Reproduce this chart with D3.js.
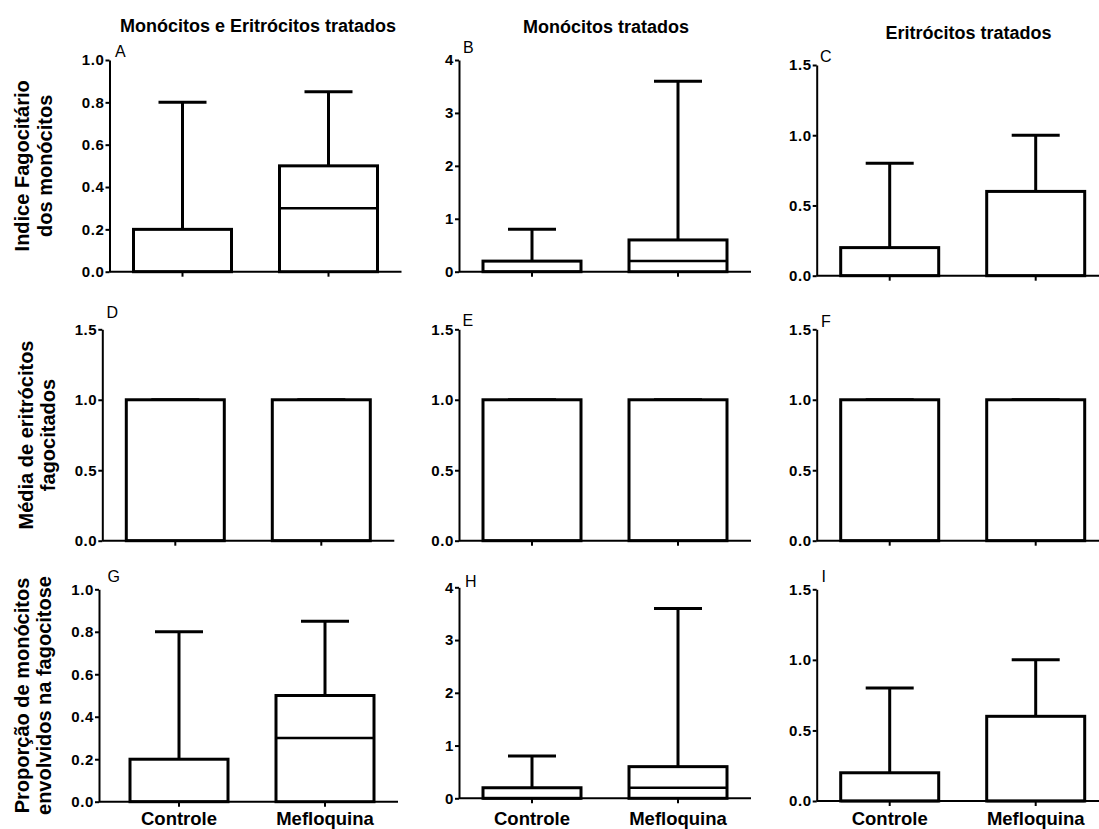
<!DOCTYPE html>
<html>
<head>
<meta charset="utf-8">
<script src="https://cdn.jsdelivr.net/npm/d3@7/dist/d3.min.js"></script>
<style>
  html, body { margin: 0; padding: 0; background: #fff; overflow: hidden; }
  svg { display: block; font-family: "Liberation Sans", Arial, sans-serif; }
</style>
</head>
<body>
<svg id="chart" width="1099" height="829"></svg>
<script>
// Groups compared in every panel
const categories = ["Controle", "Mefloquina"];

// Five-number summaries per group: [min, q1, median, q3, max]
const indiceAmbos       = [[0, 0, 0, 0.2, 0.8], [0, 0, 0.3, 0.5, 0.85]];
const indiceMonocitos   = [[0, 0, 0, 0.2, 0.8], [0, 0, 0.2, 0.6, 3.6]];
const indiceEritrocitos = [[0, 0, 0, 0.2, 0.8], [0, 0, 0, 0.6, 1.0]];

const mediaAmbos        = [[0, 0, 0, 1, 1], [0, 0, 0, 1, 1]];
const mediaMonocitos    = [[0, 0, 0, 1, 1], [0, 0, 0, 1, 1]];
const mediaEritrocitos  = [[0, 0, 0, 1, 1], [0, 0, 0, 1, 1]];

const proporcaoAmbos       = [[0, 0, 0, 0.2, 0.8], [0, 0, 0.3, 0.5, 0.85]];
const proporcaoMonocitos   = [[0, 0, 0, 0.2, 0.8], [0, 0, 0.2, 0.6, 3.6]];
const proporcaoEritrocitos = [[0, 0, 0, 0.2, 0.8], [0, 0, 0, 0.6, 1.0]];

// Tick values
const ticksUnit = [0, 0.2, 0.4, 0.6, 0.8, 1.0];
const ticksFour = [0, 1, 2, 3, 4];
const ticksHalf = [0, 0.5, 1.0, 1.5];

// Column titles and row labels
const columnTitles = ["Monócitos e Eritrócitos tratados", "Monócitos tratados", "Eritrócitos tratados"];
const rowLabels = [
  ["Indice Fagocitário", "dos monócitos"],
  ["Média de eritrócitos", "fagocitados"],
  ["Proporção de monócitos", "envolvidos na fagocitose"]
];
const panelLetters = ["A", "B", "C", "D", "E", "F", "G", "H", "I"];

// Panel layout
const panels = [
  { data: indiceAmbos,          ticks: ticksUnit, fmt: ".1f", left: 109.5, top: 60,    bottom: 271.7, shift: 0, len: 292, lx: 115,   ly: 57 },
  { data: indiceMonocitos,      ticks: ticksFour, fmt: "d",   left: 459,   top: 60,    bottom: 271.7, shift: 0, len: 292, lx: 463,   ly: 53 },
  { data: indiceEritrocitos,    ticks: ticksHalf, fmt: ".1f", left: 816.7, top: 65,    bottom: 275.7, shift: 0, len: 292, lx: 820,   ly: 62 },
  { data: mediaAmbos,           ticks: ticksHalf, fmt: ".1f", left: 102.3, top: 329.3, bottom: 540.7, shift: 0, len: 292, lx: 106.5, ly: 318 },
  { data: mediaMonocitos,       ticks: ticksHalf, fmt: ".1f", left: 459,   top: 329.3, bottom: 540.7, shift: 0, len: 292, lx: 462.5, ly: 326 },
  { data: mediaEritrocitos,     ticks: ticksHalf, fmt: ".1f", left: 816.7, top: 329.3, bottom: 540.7, shift: 0, len: 292, lx: 821,   ly: 327 },
  { data: proporcaoAmbos,       ticks: ticksUnit, fmt: ".1f", left: 99,    top: 589.3, bottom: 801.7, shift: 7, len: 299, lx: 107.5, ly: 582 },
  { data: proporcaoMonocitos,   ticks: ticksFour, fmt: "d",   left: 459,   top: 587.3, bottom: 798.3, shift: 0, len: 292, lx: 465,   ly: 587 },
  { data: proporcaoEritrocitos, ticks: ticksHalf, fmt: ".1f", left: 816.7, top: 589.3, bottom: 801,   shift: 0, len: 292, lx: 821.5, ly: 582 }
];

const titlePos = [[258, 32], [606, 33], [968.5, 39]];
const rowLabelX = [[29, 52], [33, 55], [29, 51]];
const catLabelBaseline = 825;

const svg = d3.select("#chart");
const ink = "#000";
const fontStack = "'Liberation Sans', Arial, sans-serif";

panels.forEach((p, i) => {
  const row = Math.floor(i / 3);
  const g = svg.append("g");
  const yMax = p.ticks[p.ticks.length - 1];

  const y = d3.scaleLinear().domain([0, yMax]).range([p.bottom, p.top]);
  const x = d3.scaleBand()
    .domain(categories)
    .range([p.left + p.shift, p.left + p.shift + 292])
    .paddingInner(1 - 98 / 146)
    .paddingOuter((1 - 98 / 146) / 2);

  // y axis
  const yAxis = g.append("g")
    .attr("transform", `translate(${p.left},0)`)
    .call(d3.axisLeft(y).tickValues(p.ticks).tickFormat(d3.format(p.fmt)).tickSize(4).tickSizeOuter(0).tickPadding(1));
  yAxis.attr("font-family", null).attr("font-size", null);
  yAxis.select(".domain").attr("stroke", ink).attr("stroke-width", 2);
  yAxis.selectAll(".tick line").attr("stroke", ink).attr("stroke-width", 2);
  yAxis.selectAll(".tick text")
    .attr("fill", ink)
    .style("font-size", "15px")
    .style("font-weight", "700")
    .style("letter-spacing", "0.6px")
    .style("font-family", fontStack);

  // x axis baseline, running the full panel width
  g.append("line")
    .attr("x1", p.left).attr("x2", p.left + p.len)
    .attr("y1", y(0)).attr("y2", y(0))
    .attr("stroke", ink).attr("stroke-width", 2);

  const xAxis = g.append("g")
    .attr("transform", `translate(0,${y(0)})`)
    .call(d3.axisBottom(x).tickSize(5).tickSizeOuter(0).tickPadding(6));
  xAxis.attr("font-family", null).attr("font-size", null);
  xAxis.select(".domain").remove();
  xAxis.selectAll(".tick line").attr("stroke", ink).attr("stroke-width", 2);
  if (row === 2) {
    xAxis.selectAll(".tick text")
      .attr("fill", ink)
      .attr("y", catLabelBaseline - y(0))
      .attr("dy", null)
      .style("font-size", "18.5px")
      .style("font-weight", "700")
      .style("font-family", fontStack);
  } else {
    xAxis.selectAll(".tick text").remove();
  }

  // boxes and whiskers
  const capHalf = 24;
  const groups = g.selectAll(".box")
    .data(p.data.map((s, k) => ({ cat: categories[k], min: s[0], q1: s[1], med: s[2], q3: s[3], max: s[4] })))
    .join("g")
    .attr("class", "box");

  const cx = d => x(d.cat) + x.bandwidth() / 2;

  groups.append("line")
    .attr("x1", cx).attr("x2", cx)
    .attr("y1", d => y(d.q3)).attr("y2", d => y(d.max))
    .attr("stroke", ink).attr("stroke-width", 3);
  groups.append("line")
    .attr("x1", d => cx(d) - capHalf)
    .attr("x2", d => cx(d) + capHalf)
    .attr("y1", d => y(d.max)).attr("y2", d => y(d.max))
    .attr("stroke", ink).attr("stroke-width", 3);
  groups.append("line")
    .attr("x1", cx).attr("x2", cx)
    .attr("y1", d => y(d.q1)).attr("y2", d => y(d.min))
    .attr("stroke", ink).attr("stroke-width", 3);

  groups.append("rect")
    .attr("x", d => x(d.cat))
    .attr("width", x.bandwidth())
    .attr("y", d => y(d.q3))
    .attr("height", d => y(d.q1) - y(d.q3))
    .attr("fill", "#fff")
    .attr("stroke", ink).attr("stroke-width", 3);

  groups.append("line")
    .attr("x1", d => x(d.cat))
    .attr("x2", d => x(d.cat) + x.bandwidth())
    .attr("y1", d => y(d.med)).attr("y2", d => y(d.med))
    .attr("stroke", ink).attr("stroke-width", 2.5);

  // panel letter
  svg.append("text")
    .attr("x", p.lx).attr("y", p.ly)
    .attr("fill", ink)
    .style("font-size", "16px")
    .style("font-family", fontStack)
    .text(panelLetters[i]);
});

// column titles
columnTitles.forEach((t, c) => {
  svg.append("text")
    .attr("x", titlePos[c][0]).attr("y", titlePos[c][1])
    .attr("text-anchor", "middle")
    .attr("fill", ink)
    .style("font-size", "18px")
    .style("font-weight", "700")
    .style("font-family", fontStack)
    .text(t);
});

// row labels, centred on each row's y axis
rowLabels.forEach((lines, r) => {
  const p = panels[r * 3];
  const cy = (p.top + p.bottom) / 2;
  lines.forEach((line, k) => {
    svg.append("text")
      .attr("transform", `translate(${rowLabelX[r][k]},${cy}) rotate(-90)`)
      .attr("text-anchor", "middle")
      .attr("fill", ink)
      .style("font-size", "20px")
      .style("font-weight", "700")
      .style("font-family", fontStack)
      .text(line);
  });
});
</script>
</body>
</html>
